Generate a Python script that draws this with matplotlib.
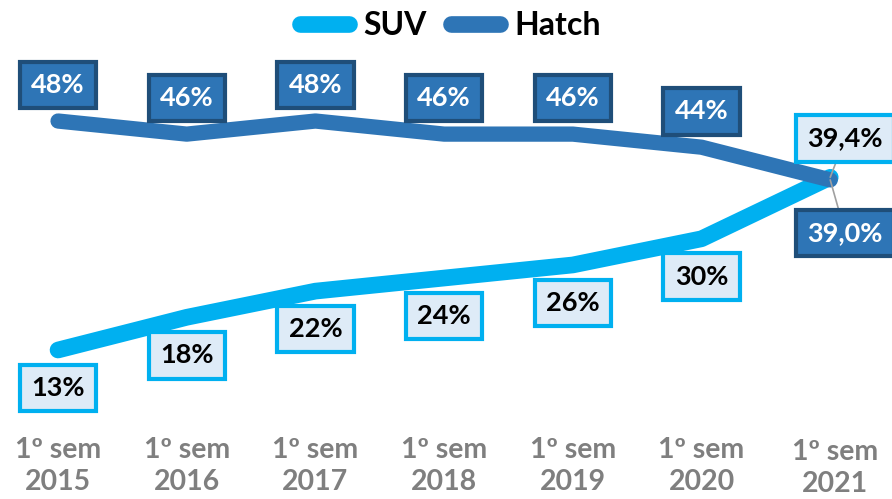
import matplotlib
matplotlib.use("Agg")
import matplotlib.pyplot as plt
from matplotlib.lines import Line2D
from matplotlib.transforms import ScaledTranslation

plt.rcParams['font.family'] = ['Lato', 'DejaVu Sans']

categories = ["1º sem\n2015", "1º sem\n2016", "1º sem\n2017", "1º sem\n2018",
              "1º sem\n2019", "1º sem\n2020", "1º sem\n2021"]
suv = [13, 18, 22, 24, 26, 30, 39.4]
hatch = [48, 46, 48, 46, 46, 44, 39.0]
suv_labels = ["13%", "18%", "22%", "24%", "26%", "30%", "39,4%"]
hatch_labels = ["48%", "46%", "48%", "46%", "46%", "44%", "39,0%"]

SUV_C = "#00B0F0"
HATCH_C = "#2E75B6"
HATCH_EDGE = "#1F4E79"
SUV_FILL = "#DEEBF7"

fig = plt.figure(figsize=(8.92, 4.99), dpi=100)
ax = fig.add_axes([0, 79 / 499, 1, 420 / 499])
x = list(range(len(categories)))

ax.plot(x, suv, color=SUV_C, lw=12, solid_capstyle='round', zorder=2)
ax.plot(x, hatch, color=HATCH_C, lw=11, solid_capstyle='round', zorder=3)

ax.set_xlim(-0.451, 6.48)
ax.set_ylim(2.3, 66.5)
for s in ax.spines.values():
    s.set_visible(False)
ax.set_yticks([])
ax.set_xticks(x)
ax.set_xticklabels(categories, fontsize=20.5, fontweight='bold', color='#7F7F7F', linespacing=1.28)
ax.tick_params(axis='x', length=0, pad=12)
last = ax.get_xticklabels()[-1]
last.set_transform(last.get_transform() + ScaledTranslation(5 / 100, -2 / 100, fig.dpi_scale_trans))

fs = 19.5
for i in range(len(x)):
    if i < len(x) - 1:
        h_off = (0, 36)
        s_off = (0, -38)
    else:
        h_off = (15, -53)
        s_off = (15, 39)
    ax.annotate(hatch_labels[i], (x[i], hatch[i]), xytext=h_off, textcoords='offset pixels',
                ha='center', va='center', fontsize=fs, fontweight='bold', color='white',
                bbox=dict(boxstyle='square,pad=0.42', fc=HATCH_C, ec=HATCH_EDGE, lw=3),
                arrowprops=dict(arrowstyle='-', color='#A0A0A0', lw=1.2, shrinkA=0, shrinkB=0)
                if i == len(x) - 1 else None, zorder=5, annotation_clip=False)
    ax.annotate(suv_labels[i], (x[i], suv[i]), xytext=s_off, textcoords='offset pixels',
                ha='center', va='center', fontsize=fs, fontweight='bold', color='black',
                bbox=dict(boxstyle='square,pad=0.42', fc=SUV_FILL, ec=SUV_C, lw=3),
                arrowprops=dict(arrowstyle='-', color='#A0A0A0', lw=1.2, shrinkA=0, shrinkB=0)
                if i == len(x) - 1 else None, zorder=5, annotation_clip=False)

handles = [Line2D([0], [0], color=SUV_C, lw=12, solid_capstyle='round'),
           Line2D([0], [0], color=HATCH_C, lw=12, solid_capstyle='round')]
leg = fig.legend(handles, ["SUV", "Hatch"], loc='upper center', bbox_to_anchor=(0.505, 1.035),
                 ncol=2, frameon=False, handlelength=1.55, handletextpad=0.45, columnspacing=0.75,
                 prop={'weight': 'bold', 'size': 23})

fig.savefig("out.png", dpi=100)
